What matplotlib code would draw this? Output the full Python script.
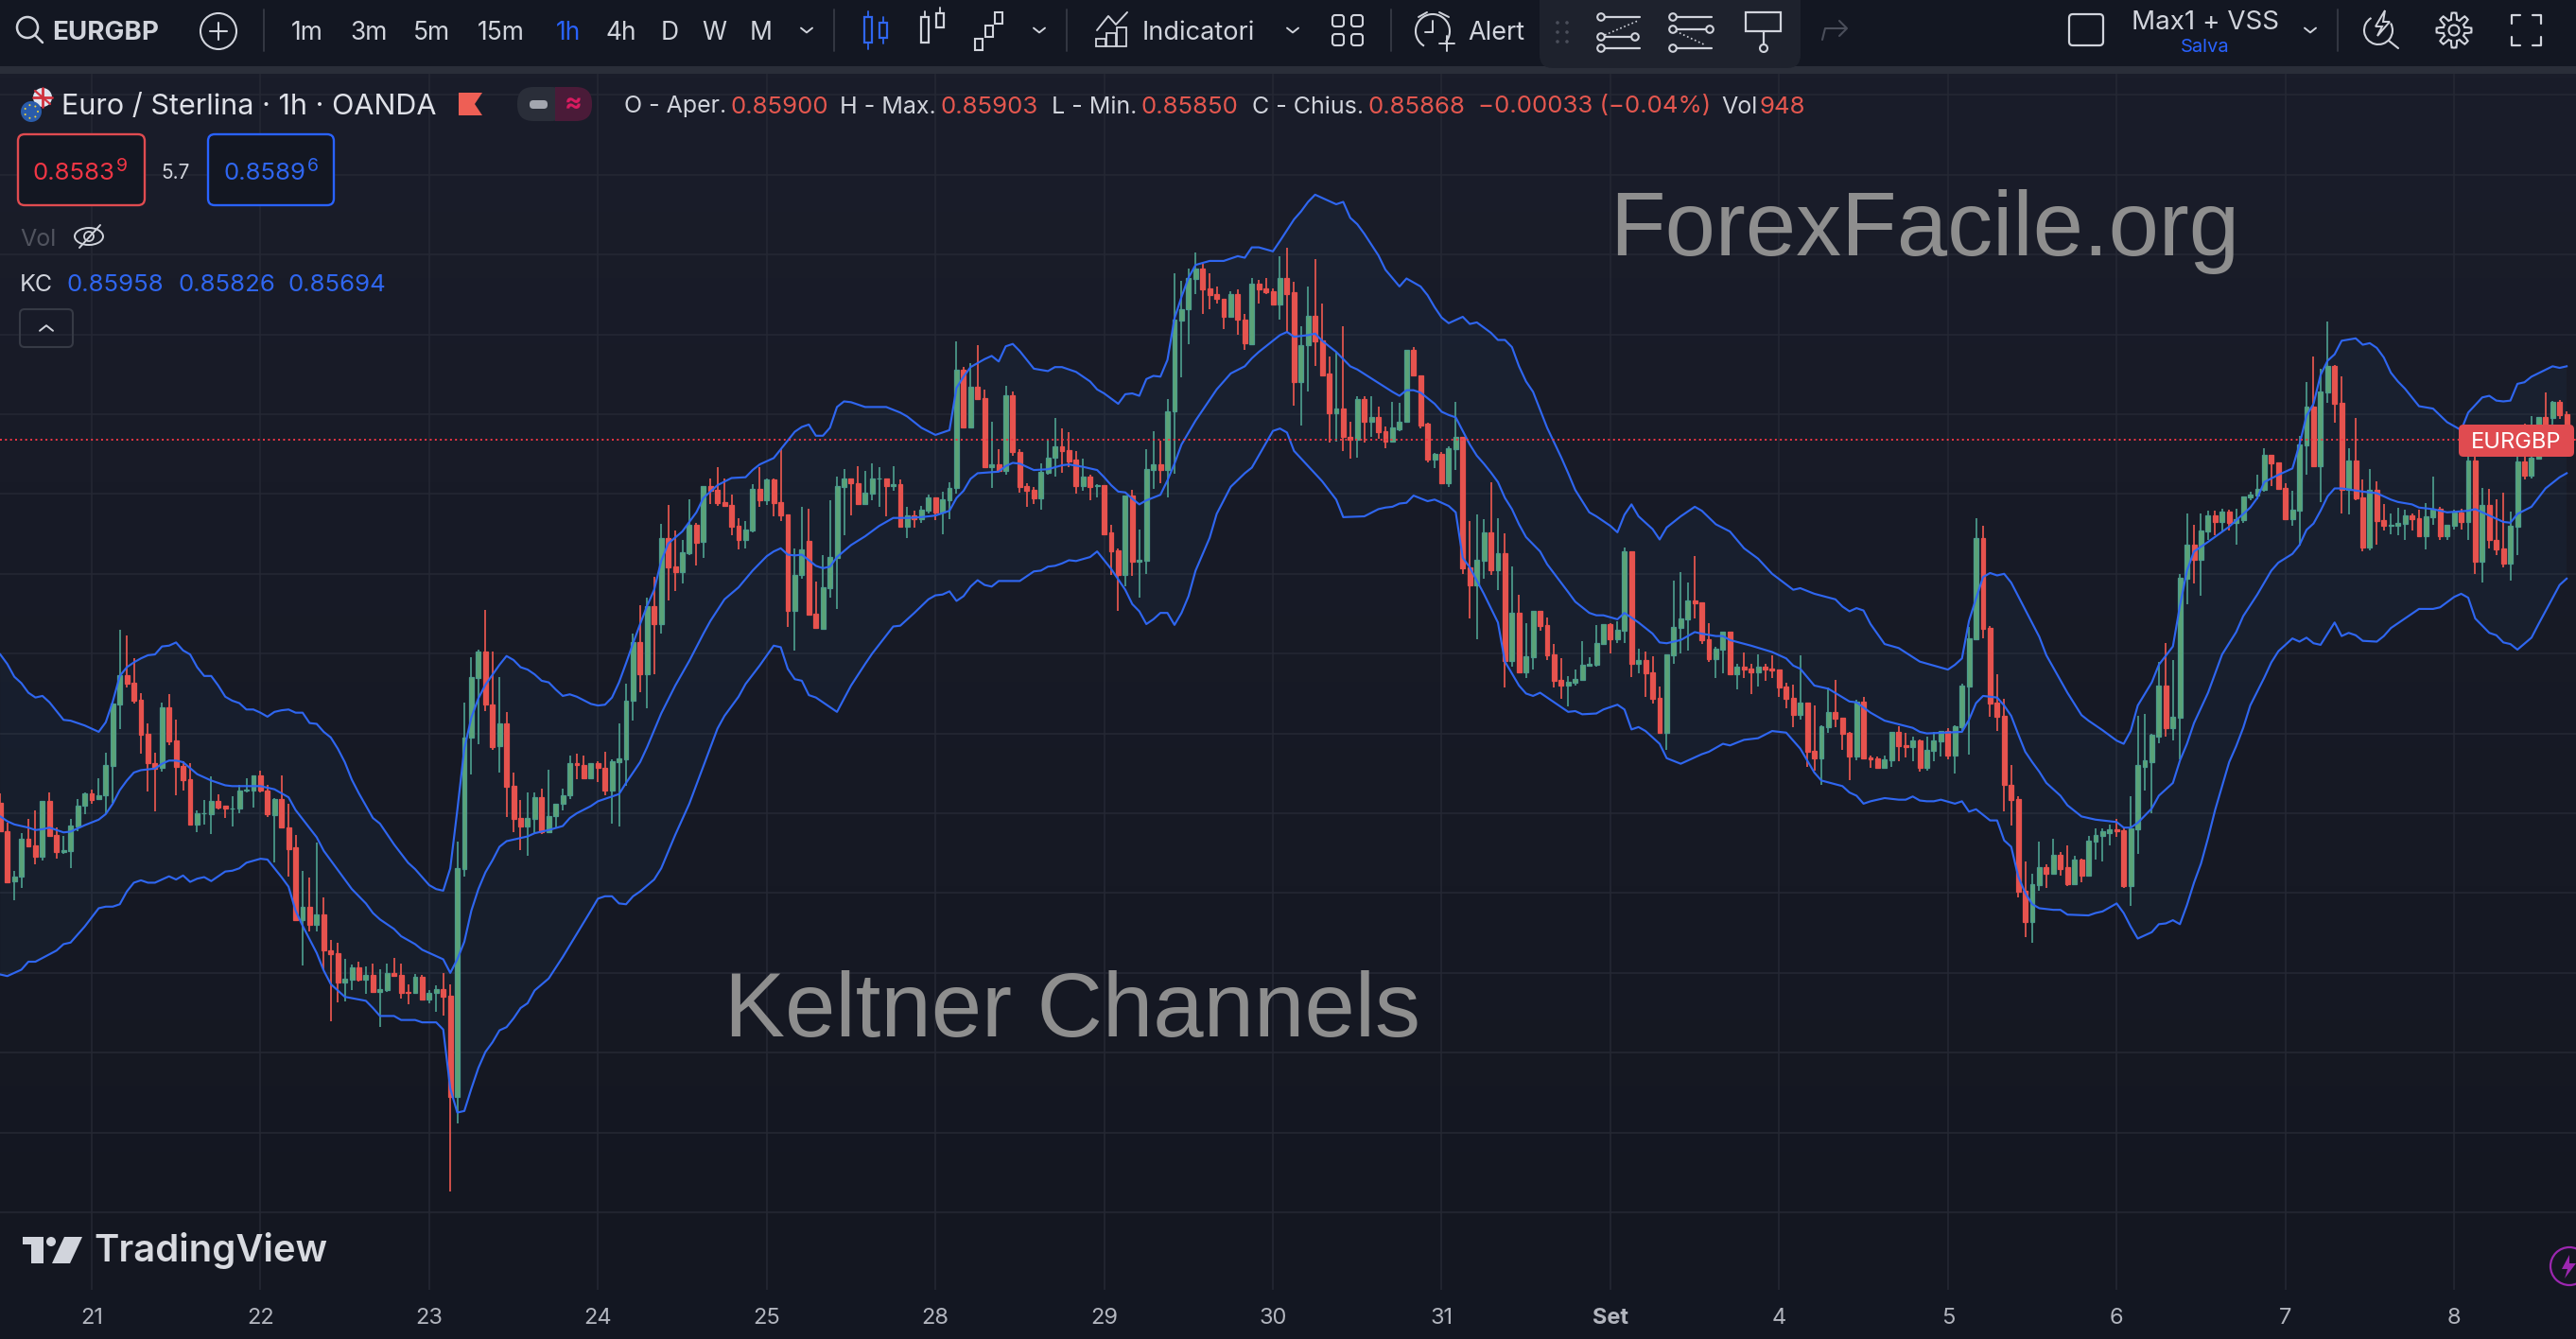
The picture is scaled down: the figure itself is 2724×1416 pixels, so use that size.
import numpy as np
from matplotlib import pyplot as plt
from matplotlib import patches as ptc

plt.rcParams['font.family'] = ['Inter', 'DejaVu Sans']

# hourly candles in 1e-5 price units, one row per chunk of bars
opens = [
    85413, 85377, 85315, 85321, 85368, 85360, 85346, 85416, 85373, 85351, 85353, 85384, 85409, 85425, 85418, 85423,
    85459, 85536, 85573, 85563, 85542, 85499, 85463, 85457, 85533, 85491, 85459, 85443, 85386, 85400, 85399, 85415,
    85409, 85406, 85406, 85428, 85429, 85447, 85429, 85398, 85418, 85382, 85357, 85266, 85283, 85260, 85273, 85228,
    85225, 85188, 85192, 85207, 85192, 85197, 85176, 85179, 85200, 85197, 85176, 85175, 85195, 85167, 85175, 85180,
    85171, 85045, 85330, 85495, 85570, 85603, 85536, 85484, 85513, 85434, 85394, 85384, 85393, 85420, 85376, 85396,
    85412, 85423, 85463, 85460, 85444, 85463, 85457, 85428, 85464, 85468, 85541, 85615, 85574, 85659, 85637, 85745,
    85709, 85702, 85726, 85761, 85740, 85810, 85805, 85790, 85786, 85760, 85742, 85754, 85806, 85792, 85818, 85790,
    85774, 85654, 85699, 85741, 85650, 85631, 85682, 85720, 85809, 85819, 85813, 85788, 85801, 85819, 85819, 85810,
    85812, 85759, 85773, 85768, 85779, 85796, 85777, 85792, 85807, 85956, 85883, 85934, 85920, 85834, 85837, 85829,
    85924, 85853, 85810, 85805, 85794, 85826, 85845, 85860, 85855, 85843, 85810, 85822, 85810, 85811, 85752, 85729,
    85698, 85798, 85715, 85716, 85830, 85837, 85830, 85903, 86017, 86032, 86069, 86082, 86057, 86050, 86045, 86022,
    86050, 86019, 85988, 86063, 86057, 86054, 86038, 86071, 86053, 85940, 85986, 86023, 85992, 85951, 85901, 85907,
    85872, 85868, 85919, 85890, 85897, 85879, 85866, 85881, 85890, 85980, 85949, 85888, 85843, 85850, 85814, 85856,
    85871, 85708, 85685, 85716, 85752, 85705, 85726, 85591, 85651, 85577, 85596, 85654, 85636, 85599, 85567, 85560,
    85564, 85567, 85585, 85586, 85612, 85637, 85618, 85629, 85728, 85587, 85592, 85577, 85545, 85501, 85598, 85632,
    85643, 85666, 85664, 85618, 85593, 85605, 85628, 85574, 85584, 85581, 85577, 85584, 85581, 85580, 85559, 85545,
    85523, 85539, 85478, 85469, 85508, 85527, 85520, 85501, 85471, 85540, 85470, 85469, 85457, 85466, 85502, 85485,
    85483, 85491, 85457, 85478, 85490, 85503, 85472, 85508, 85559, 85618, 85745, 85632, 85539, 85522, 85436, 85418,
    85303, 85264, 85310, 85332, 85324, 85348, 85332, 85311, 85342, 85322, 85365, 85372, 85375, 85380, 85379, 85309,
    85380, 85458, 85464, 85496, 85560, 85507, 85520, 85694, 85736, 85718, 85753, 85773, 85765, 85778, 85764, 85767,
    85796, 85798, 85805, 85849, 85839, 85807, 85768, 85779, 85861, 85909, 85835, 85927, 85960, 85914, 85805, 85842,
    85796, 85733, 85805, 85767, 85760, 85760, 85762, 85773, 85770, 85747, 85771, 85781, 85747, 85760, 85777, 85765,
    85842, 85715, 85786, 85743, 85732, 85713, 85759, 85841, 85823, 85844, 85896, 85895, 85915, 85900,
]
highs = [
    85425, 85388, 85328, 85375, 85393, 85403, 85416, 85426, 85382, 85371, 85393, 85418, 85426, 85430, 85444, 85476,
    85539, 85630, 85623, 85594, 85551, 85512, 85476, 85539, 85549, 85517, 85465, 85463, 85404, 85417, 85446, 85424,
    85409, 85421, 85435, 85444, 85448, 85453, 85435, 85419, 85447, 85412, 85373, 85328, 85319, 85363, 85295, 85241,
    85238, 85217, 85210, 85214, 85208, 85212, 85205, 85212, 85219, 85212, 85186, 85199, 85197, 85178, 85184, 85200,
    85186, 85364, 85539, 85595, 85605, 85655, 85603, 85571, 85527, 85451, 85417, 85426, 85426, 85431, 85455, 85412,
    85431, 85472, 85475, 85472, 85463, 85465, 85477, 85468, 85512, 85562, 85625, 85661, 85670, 85696, 85763, 85786,
    85754, 85743, 85793, 85764, 85810, 85819, 85834, 85819, 85799, 85770, 85766, 85812, 85834, 85819, 85819, 85857,
    85774, 85732, 85784, 85781, 85690, 85723, 85792, 85822, 85831, 85820, 85835, 85829, 85838, 85834, 85820, 85835,
    85818, 85784, 85779, 85785, 85799, 85796, 85803, 85815, 85991, 85959, 85964, 85987, 85931, 85890, 85856, 85936,
    85929, 85856, 85813, 85809, 85838, 85868, 85895, 85882, 85877, 85854, 85844, 85824, 85812, 85811, 85761, 85732,
    85798, 85805, 85756, 85856, 85879, 85867, 85919, 86076, 86067, 86083, 86102, 86088, 86076, 86060, 86045, 86054,
    86056, 86026, 86070, 86068, 86071, 86057, 86098, 86109, 86066, 86010, 86060, 86094, 86039, 85972, 85978, 86010,
    85890, 85923, 85922, 85922, 85909, 85885, 85915, 85914, 85980, 85984, 85949, 85889, 85851, 85853, 85860, 85915,
    85871, 85766, 85774, 85768, 85815, 85770, 85751, 85709, 85674, 85638, 85654, 85654, 85645, 85612, 85594, 85572,
    85580, 85616, 85596, 85636, 85637, 85638, 85640, 85733, 85728, 85606, 85603, 85597, 85559, 85599, 85691, 85702,
    85689, 85722, 85664, 85638, 85609, 85628, 85628, 85587, 85602, 85587, 85599, 85587, 85598, 85580, 85564, 85561,
    85598, 85539, 85535, 85510, 85558, 85567, 85520, 85502, 85542, 85546, 85472, 85471, 85472, 85502, 85509, 85501,
    85496, 85492, 85496, 85502, 85503, 85507, 85510, 85562, 85634, 85770, 85760, 85635, 85574, 85543, 85461, 85421,
    85340, 85324, 85365, 85336, 85368, 85352, 85360, 85347, 85343, 85371, 85381, 85381, 85386, 85393, 85381, 85421,
    85522, 85525, 85500, 85589, 85613, 85592, 85700, 85775, 85761, 85775, 85779, 85779, 85781, 85780, 85781, 85797,
    85803, 85824, 85857, 85849, 85839, 85813, 85804, 85873, 85940, 85972, 85957, 86016, 85962, 85947, 85857, 85895,
    85818, 85831, 85816, 85787, 85775, 85783, 85780, 85775, 85780, 85789, 85822, 85784, 85761, 85780, 85781, 85872,
    85860, 85807, 85806, 85793, 85802, 85778, 85855, 85888, 85898, 85896, 85927, 85917, 85918, 85903,
]
lows = [
    85377, 85313, 85291, 85307, 85358, 85336, 85341, 85371, 85343, 85349, 85331, 85377, 85399, 85412, 85417, 85399,
    85413, 85505, 85557, 85537, 85475, 85427, 85402, 85452, 85485, 85423, 85429, 85385, 85376, 85386, 85374, 85405,
    85394, 85384, 85400, 85426, 85407, 85426, 85395, 85339, 85381, 85321, 85265, 85209, 85252, 85252, 85205, 85139,
    85163, 85164, 85179, 85189, 85174, 85175, 85132, 85176, 85195, 85168, 85161, 85174, 85165, 85162, 85151, 85146,
    84926, 85012, 85321, 85449, 85486, 85528, 85479, 85451, 85395, 85376, 85354, 85347, 85375, 85374, 85376, 85382,
    85403, 85418, 85443, 85444, 85444, 85439, 85423, 85387, 85383, 85434, 85516, 85552, 85532, 85574, 85625, 85667,
    85678, 85688, 85724, 85711, 85720, 85788, 85785, 85784, 85748, 85730, 85732, 85752, 85784, 85786, 85772, 85766,
    85633, 85604, 85694, 85649, 85632, 85630, 85670, 85656, 85748, 85773, 85788, 85788, 85792, 85784, 85772, 85804,
    85759, 85745, 85758, 85764, 85775, 85767, 85749, 85768, 85800, 85882, 85882, 85919, 85832, 85807, 85828, 85824,
    85848, 85802, 85784, 85787, 85780, 85824, 85822, 85826, 85834, 85800, 85804, 85792, 85796, 85750, 85698, 85654,
    85684, 85697, 85670, 85700, 85806, 85813, 85796, 85825, 85946, 85988, 86050, 86025, 86031, 86039, 86007, 86021,
    85999, 85980, 85986, 86039, 86051, 86038, 86019, 86002, 85911, 85886, 85929, 85961, 85947, 85865, 85866, 85854,
    85844, 85845, 85864, 85871, 85869, 85857, 85865, 85879, 85890, 85947, 85882, 85840, 85833, 85813, 85809, 85830,
    85700, 85644, 85618, 85694, 85699, 85680, 85557, 85584, 85577, 85570, 85580, 85629, 85592, 85558, 85543, 85534,
    85560, 85567, 85585, 85584, 85612, 85600, 85613, 85613, 85571, 85575, 85546, 85537, 85501, 85479, 85587, 85600,
    85604, 85644, 85612, 85589, 85570, 85575, 85573, 85555, 85570, 85549, 85559, 85566, 85570, 85546, 85532, 85508,
    85517, 85458, 85453, 85436, 85501, 85508, 85479, 85442, 85466, 85469, 85457, 85457, 85457, 85458, 85465, 85470,
    85465, 85452, 85453, 85465, 85471, 85468, 85450, 85502, 85474, 85618, 85619, 85521, 85503, 85402, 85385, 85295,
    85245, 85238, 85303, 85306, 85324, 85322, 85309, 85311, 85314, 85322, 85342, 85340, 85360, 85370, 85307, 85284,
    85349, 85428, 85400, 85488, 85496, 85491, 85468, 85662, 85688, 85673, 85743, 85748, 85752, 85754, 85737, 85764,
    85792, 85793, 85803, 85810, 85805, 85767, 85760, 85735, 85824, 85834, 85790, 85914, 85889, 85775, 85774, 85792,
    85728, 85729, 85737, 85754, 85749, 85748, 85742, 85754, 85747, 85730, 85761, 85743, 85743, 85755, 85755, 85742,
    85700, 85689, 85732, 85723, 85708, 85691, 85723, 85818, 85819, 85844, 85860, 85866, 85894, 85850,
]
closes = [
    85377, 85314, 85321, 85368, 85359, 85346, 85416, 85371, 85351, 85354, 85385, 85409, 85425, 85417, 85423, 85460,
    85537, 85573, 85562, 85541, 85498, 85463, 85456, 85533, 85490, 85458, 85442, 85386, 85400, 85400, 85415, 85407,
    85406, 85406, 85429, 85430, 85447, 85429, 85399, 85418, 85382, 85355, 85266, 85283, 85260, 85273, 85228, 85224,
    85188, 85193, 85207, 85192, 85197, 85176, 85180, 85200, 85196, 85175, 85175, 85195, 85167, 85175, 85180, 85170,
    85045, 85331, 85495, 85571, 85603, 85536, 85483, 85513, 85433, 85393, 85384, 85394, 85420, 85376, 85397, 85412,
    85423, 85463, 85460, 85444, 85463, 85457, 85428, 85465, 85469, 85541, 85615, 85574, 85659, 85637, 85745, 85708,
    85702, 85727, 85761, 85739, 85810, 85804, 85789, 85785, 85759, 85742, 85755, 85806, 85792, 85818, 85789, 85773,
    85654, 85699, 85730, 85649, 85632, 85683, 85721, 85810, 85819, 85813, 85788, 85802, 85819, 85820, 85810, 85812,
    85759, 85773, 85768, 85780, 85796, 85777, 85793, 85807, 85956, 85883, 85934, 85919, 85834, 85837, 85829, 85924,
    85853, 85809, 85804, 85794, 85828, 85845, 85860, 85854, 85841, 85810, 85822, 85809, 85811, 85750, 85728, 85698,
    85798, 85715, 85717, 85831, 85837, 85830, 85904, 86018, 86032, 86070, 86082, 86056, 86049, 86044, 86022, 86050,
    86018, 85989, 86063, 86056, 86053, 86038, 86071, 86051, 85940, 85987, 86023, 85991, 85949, 85901, 85907, 85871,
    85868, 85919, 85890, 85897, 85878, 85866, 85883, 85891, 85980, 85948, 85886, 85843, 85850, 85814, 85857, 85871,
    85707, 85685, 85717, 85752, 85705, 85726, 85591, 85651, 85577, 85597, 85654, 85635, 85598, 85566, 85560, 85565,
    85568, 85586, 85587, 85613, 85637, 85618, 85630, 85728, 85587, 85592, 85575, 85543, 85501, 85599, 85634, 85644,
    85666, 85663, 85617, 85593, 85606, 85628, 85574, 85584, 85580, 85577, 85584, 85580, 85579, 85558, 85543, 85523,
    85539, 85477, 85469, 85509, 85527, 85519, 85500, 85471, 85540, 85469, 85467, 85457, 85468, 85502, 85484, 85483,
    85491, 85457, 85479, 85491, 85503, 85472, 85509, 85560, 85619, 85745, 85631, 85538, 85521, 85435, 85417, 85302,
    85264, 85311, 85332, 85324, 85348, 85330, 85311, 85342, 85322, 85366, 85373, 85377, 85380, 85378, 85309, 85381,
    85460, 85466, 85498, 85560, 85507, 85521, 85695, 85736, 85718, 85754, 85773, 85765, 85778, 85764, 85768, 85797,
    85799, 85806, 85849, 85838, 85806, 85768, 85780, 85862, 85909, 85835, 85928, 85960, 85913, 85805, 85842, 85794,
    85733, 85805, 85766, 85760, 85761, 85764, 85773, 85768, 85747, 85772, 85781, 85747, 85761, 85777, 85765, 85842,
    85715, 85786, 85742, 85730, 85713, 85760, 85841, 85823, 85845, 85896, 85886, 85915, 85899, 85868,
]

# Keltner bands read at the bars where the line visibly bends
upper_bars = [
    0, 1, 2, 3, 4, 5, 6, 7, 8, 9, 10, 12, 14, 15, 16, 17, 18, 19, 20, 21, 22, 23, 24, 25, 26, 27, 28, 29, 30, 31,
    32, 33, 34, 35, 36, 37, 38, 39, 40, 41, 42, 43, 44, 45, 46, 47, 48, 49, 50, 51, 53, 54, 56, 58, 59, 61, 62,
    63, 64, 65, 66, 67, 68, 69, 71, 72, 73, 74, 75, 76, 77, 78, 79, 80, 81, 82, 84, 85, 86, 87, 88, 89, 90, 91,
    92, 93, 94, 95, 97, 99, 100, 102, 104, 106, 107, 108, 110, 111, 113, 114, 115, 116, 117, 118, 119, 120, 121,
    123, 126, 128, 129, 131, 133, 135, 136, 137, 138, 140, 141, 142, 143, 144, 145, 147, 149, 150, 151, 153, 155,
    156, 157, 159, 160, 161, 162, 163, 164, 165, 166, 167, 168, 169, 170, 172, 174, 176, 177, 178, 179, 181, 182,
    184, 185, 186, 187, 189, 190, 191, 192, 193, 194, 196, 197, 199, 200, 202, 203, 204, 205, 206, 208, 209, 210,
    212, 213, 214, 215, 216, 217, 218, 220, 222, 223, 224, 226, 227, 229, 230, 231, 232, 233, 235, 236, 237, 239,
    241, 242, 244, 246, 248, 250, 252, 255, 256, 258, 261, 262, 263, 264, 265, 266, 268, 270, 273, 277, 278, 279,
    280, 281, 282, 283, 284, 285, 286, 288, 290, 291, 294, 296, 297, 298, 299, 301, 302, 303, 304, 306, 307, 309,
    310, 311, 312, 314, 317, 320, 321, 322, 324, 326, 327, 328, 329, 330, 331, 332, 333, 335, 336, 337, 338, 339,
    340, 341, 342, 344, 346, 348, 350, 351, 353, 354, 355, 356, 357, 358, 359, 360, 363, 364, 365,
]
upper_vals = [
    85599, 85587, 85571, 85563, 85551, 85545, 85547, 85539, 85528, 85517, 85516, 85510, 85502, 85514, 85540, 85572,
    85583, 85589, 85594, 85598, 85599, 85609, 85610, 85614, 85604, 85599, 85583, 85572, 85572, 85560, 85546, 85541,
    85538, 85530, 85530, 85526, 85521, 85527, 85529, 85530, 85526, 85526, 85513, 85512, 85502, 85495, 85481, 85464,
    85442, 85425, 85394, 85387, 85361, 85338, 85330, 85310, 85305, 85303, 85331, 85404, 85481, 85520, 85544, 85561,
    85586, 85597, 85592, 85583, 85580, 85574, 85566, 85564, 85555, 85547, 85549, 85546, 85537, 85535, 85536, 85545,
    85564, 85588, 85613, 85637, 85660, 85680, 85716, 85738, 85753, 85777, 85795, 85811, 85820, 85821, 85830, 85837,
    85845, 85856, 85878, 85884, 85887, 85873, 85873, 85883, 85909, 85916, 85915, 85909, 85909, 85902, 85897, 85883,
    85874, 85880, 85933, 85947, 85959, 85969, 85973, 85966, 85985, 85988, 85979, 85957, 85954, 85959, 85959, 85953,
    85941, 85931, 85926, 85913, 85925, 85926, 85923, 85944, 85948, 85947, 85968, 86020, 86047, 86071, 86087, 86092,
    86092, 86098, 86096, 86109, 86109, 86104, 86117, 86144, 86154, 86166, 86175, 86167, 86163, 86166, 86146, 86138,
    86126, 86099, 86081, 86060, 86070, 86060, 86049, 86034, 86021, 86014, 86022, 86013, 86015, 86002, 85993, 85993,
    85984, 85960, 85941, 85928, 85883, 85846, 85826, 85805, 85777, 85772, 85760, 85752, 85774, 85787, 85772, 85756,
    85743, 85758, 85772, 85784, 85779, 85762, 85753, 85732, 85719, 85700, 85680, 85682, 85675, 85668, 85659, 85653,
    85657, 85654, 85637, 85612, 85607, 85590, 85580, 85586, 85594, 85641, 85669, 85696, 85701, 85698, 85700, 85689,
    85655, 85621, 85598, 85551, 85523, 85516, 85510, 85504, 85491, 85487, 85503, 85535, 85564, 85586, 85609, 85660,
    85704, 85728, 85740, 85759, 85783, 85795, 85815, 85824, 85832, 85862, 85898, 85913, 85949, 85967, 85975, 85992,
    85995, 85987, 85989, 85983, 85971, 85952, 85941, 85932, 85910, 85907, 85890, 85880, 85902, 85921, 85923, 85917,
    85916, 85917, 85938, 85940, 85947, 85960, 85958, 85960,
]
basis_bars = [
    0, 1, 2, 4, 5, 6, 7, 9, 10, 12, 14, 15, 16, 17, 18, 19, 20, 22, 23, 24, 25, 26, 28, 30, 32, 33, 35, 37, 39, 41,
    42, 45, 46, 47, 50, 52, 53, 54, 56, 57, 59, 60, 63, 64, 65, 66, 67, 68, 69, 70, 71, 72, 75, 76, 78, 80, 81,
    82, 84, 85, 88, 89, 90, 91, 92, 94, 96, 98, 100, 101, 103, 105, 107, 109, 110, 111, 112, 113, 114, 116, 117,
    118, 119, 121, 123, 125, 127, 129, 131, 133, 135, 136, 137, 138, 139, 142, 143, 144, 145, 147, 149, 151, 152,
    154, 156, 157, 158, 159, 160, 161, 162, 163, 165, 166, 167, 168, 170, 173, 175, 177, 178, 179, 181, 182, 183,
    184, 186, 187, 188, 190, 192, 193, 198, 199, 200, 201, 202, 204, 205, 206, 207, 208, 209, 210, 211, 212, 213,
    214, 215, 216, 217, 219, 220, 223, 224, 226, 227, 228, 230, 231, 232, 233, 235, 236, 237, 239, 241, 242, 244,
    245, 246, 249, 252, 254, 255, 256, 258, 260, 263, 264, 266, 268, 272, 273, 274, 279, 280, 281, 282, 284, 285,
    286, 287, 288, 289, 290, 291, 293, 294, 296, 298, 301, 302, 303, 304, 306, 307, 308, 309, 310, 311, 312, 314,
    316, 318, 319, 321, 323, 324, 326, 327, 328, 329, 330, 331, 332, 333, 336, 338, 340, 341, 343, 344, 346, 348,
    351, 352, 354, 356, 357, 358, 360, 362, 364, 365,
]
basis_vals = [
    85396, 85390, 85386, 85382, 85379, 85380, 85382, 85376, 85377, 85385, 85392, 85399, 85412, 85429, 85441, 85451,
    85454, 85456, 85462, 85466, 85466, 85464, 85449, 85441, 85435, 85434, 85434, 85434, 85430, 85420, 85404, 85370,
    85353, 85341, 85305, 85287, 85275, 85267, 85255, 85246, 85236, 85229, 85217, 85200, 85217, 85239, 85278, 85305,
    85326, 85341, 85358, 85365, 85371, 85375, 85379, 85384, 85394, 85400, 85409, 85415, 85424, 85438, 85451, 85464,
    85483, 85525, 85560, 85591, 85625, 85641, 85668, 85683, 85704, 85722, 85728, 85732, 85724, 85723, 85724, 85710,
    85707, 85709, 85721, 85736, 85747, 85760, 85770, 85770, 85771, 85773, 85779, 85795, 85804, 85819, 85826, 85828,
    85835, 85839, 85838, 85830, 85831, 85836, 85837, 85834, 85830, 85821, 85811, 85803, 85802, 85794, 85787, 85792,
    85799, 85817, 85838, 85862, 85892, 85931, 85951, 85960, 85970, 85978, 85992, 85999, 86003, 85997, 85999, 86001,
    85992, 85978, 85960, 85956, 85928, 85923, 85930, 85930, 85927, 85913, 85903, 85899, 85896, 85879, 85862, 85848,
    85838, 85827, 85815, 85795, 85781, 85762, 85746, 85728, 85712, 85677, 85665, 85651, 85648, 85648, 85643, 85651,
    85645, 85639, 85625, 85614, 85613, 85617, 85627, 85625, 85622, 85622, 85617, 85610, 85602, 85594, 85585, 85581,
    85560, 85556, 85540, 85539, 85526, 85516, 85507, 85502, 85500, 85502, 85517, 85538, 85547, 85545, 85535,
    85522, 85499, 85477, 85464, 85452, 85438, 85422, 85410, 85396, 85392, 85389, 85382, 85382, 85388, 85406, 85422,
    85430, 85438, 85466, 85487, 85513, 85551, 85599, 85627, 85647, 85674, 85704, 85714, 85725, 85736, 85755, 85763,
    85779, 85797, 85807, 85807, 85803, 85801, 85793, 85790, 85787, 85783, 85781, 85777, 85779, 85781, 85773, 85765,
    85764, 85775, 85784, 85807, 85821, 85826,
]
lower_bars = [
    0, 1, 3, 4, 5, 8, 9, 10, 12, 14, 15, 16, 17, 18, 19, 20, 21, 22, 24, 25, 26, 27, 28, 29, 30, 32, 33, 34, 35, 37,
    38, 40, 41, 42, 43, 45, 46, 47, 49, 52, 53, 54, 56, 57, 59, 60, 62, 63, 64, 65, 66, 67, 68, 69, 70, 71, 72,
    73, 74, 75, 76, 78, 80, 82, 84, 85, 86, 87, 88, 89, 90, 91, 93, 94, 96, 98, 100, 102, 103, 105, 106, 108, 110,
    111, 112, 113, 114, 115, 116, 119, 121, 123, 124, 127, 128, 130, 132, 133, 134, 135, 136, 137, 138, 139, 140,
    141, 142, 145, 147, 148, 149, 150, 151, 152, 153, 155, 156, 158, 160, 161, 162, 163, 164, 165, 166, 167, 168,
    169, 170, 172, 173, 175, 177, 178, 181, 182, 183, 184, 186, 188, 190, 191, 194, 196, 197, 198, 199, 200, 201,
    203, 204, 206, 207, 208, 209, 211, 212, 213, 214, 216, 217, 218, 219, 223, 224, 225, 227, 228, 230, 231, 232,
    233, 234, 236, 237, 239, 242, 243, 245, 246, 248, 250, 252, 254, 256, 258, 259, 262, 263, 264, 265, 266, 268,
    270, 271, 272, 273, 274, 275, 276, 278, 279, 280, 281, 283, 284, 285, 286, 287, 288, 289, 290, 292, 293, 294,
    297, 298, 299, 301, 302, 303, 304, 306, 307, 308, 309, 310, 311, 312, 313, 314, 315, 316, 317, 318, 319, 320,
    322, 323, 324, 325, 326, 327, 328, 329, 330, 332, 333, 334, 335, 336, 338, 339, 340, 342, 344, 346, 347, 349,
    350, 351, 352, 354, 355, 356, 357, 358, 360, 361, 364, 365,
]
lower_vals = [
    85198, 85196, 85204, 85214, 85214, 85228, 85236, 85238, 85258, 85281, 85283, 85283, 85286, 85302, 85313, 85316,
    85313, 85313, 85321, 85317, 85322, 85314, 85318, 85320, 85315, 85327, 85328, 85331, 85338, 85343, 85342, 85320,
    85308, 85278, 85259, 85225, 85203, 85186, 85170, 85165, 85156, 85146, 85146, 85141, 85141, 85138, 85138, 85129,
    85055, 85025, 85027, 85055, 85081, 85101, 85113, 85128, 85132, 85143, 85156, 85162, 85178, 85193, 85220, 85249,
    85278, 85293, 85296, 85296, 85287, 85286, 85296, 85302, 85317, 85331, 85373, 85412, 85459, 85506, 85522, 85546,
    85562, 85585, 85610, 85608, 85581, 85568, 85566, 85548, 85545, 85527, 85560, 85587, 85600, 85634, 85635, 85651,
    85668, 85673, 85674, 85678, 85666, 85672, 85684, 85692, 85686, 85684, 85691, 85691, 85703, 85704, 85709, 85710,
    85713, 85717, 85716, 85721, 85728, 85706, 85680, 85662, 85653, 85637, 85643, 85651, 85651, 85636, 85651, 85672,
    85704, 85745, 85775, 85809, 85826, 85833, 85879, 85882, 85877, 85854, 85835, 85816, 85793, 85771, 85772, 85781,
    85783, 85784, 85788, 85789, 85798, 85791, 85793, 85785, 85777, 85720, 85708, 85675, 85657, 85639, 85590, 85560,
    85550, 85547, 85551, 85527, 85528, 85524, 85525, 85530, 85536, 85530, 85505, 85508, 85503, 85487, 85469, 85462,
    85474, 85477, 85487, 85485, 85492, 85494, 85503, 85501, 85481, 85451, 85441, 85434, 85426, 85422, 85412, 85415,
    85419, 85417, 85417, 85421, 85416, 85415, 85415, 85417, 85412, 85415, 85402, 85405, 85391, 85391, 85366, 85358,
    85321, 85300, 85286, 85281, 85279, 85279, 85273, 85272, 85275, 85277, 85287, 85275, 85258, 85243, 85251, 85261,
    85262, 85266, 85261, 85285, 85313, 85337, 85369, 85404, 85434, 85464, 85484, 85507, 85535, 85570, 85589, 85603,
    85611, 85619, 85615, 85620, 85613, 85611, 85639, 85622, 85626, 85623, 85616, 85615, 85622, 85632, 85644, 85656,
    85656, 85658, 85671, 85675, 85670, 85644, 85626, 85623, 85614, 85612, 85605, 85620, 85637, 85686, 85694,
]

day_bars = [13, 37, 61, 85, 109, 133, 157, 181, 205, 229, 253, 277, 301, 325, 349]
day_labels = ['21', '22', '23', '24', '25', '28', '29', '30', '31', 'Set', '4', '5', '6', '7', '8']
grid_prices = [0.849, 0.850, 0.851, 0.852, 0.853, 0.854, 0.855, 0.856, 0.857, 0.858, 0.859, 0.860, 0.861, 0.862, 0.863]
last_close = 0.85868

c_blue = '#2f66f0'
c_text = '#d1d4dc'
c_red = '#e4574f'
c_line = '#d1d4dc'

W, H = 2724, 1416
fig = plt.figure(figsize=(W / 100, H / 100), dpi=100, facecolor='#131722')

# pane background fades from top to bottom
bg = fig.add_axes([0, 0, 1, 1], zorder=0)
grad = np.linspace(0, 1, 256).reshape(-1, 1)
c_top, c_bot = np.array([26, 29, 42]) / 255, np.array([20, 23, 33]) / 255
bg.imshow((c_top * (1 - grad[..., None]) + c_bot * grad[..., None]), aspect='auto', extent=[0, W, 1364, 78])
bg.set_xlim(0, W)
bg.set_ylim(H, 0)
bg.axis('off')

ax = fig.add_axes([0, (H - 1364) / H, 1, (1364 - 78) / H], zorder=1)
ax.patch.set_alpha(0)
for s in ax.spines.values():
    s.set_visible(False)

o, h, l, c = [np.array(v) / 1e5 for v in (opens, highs, lows, closes)]
bars = np.arange(len(o))
up = c >= o

ax.set_xticks(day_bars, day_labels, fontsize=17, color='#b2b5be')
ax.set_yticks(grid_prices, [''] * len(grid_prices))
ax.tick_params(length=0, pad=14)
ax.get_xticklabels()[9].set_fontweight('bold')
ax.grid(True, color='#252834', linewidth=1.1, zorder=0)
ax.set_axisbelow(True)

ux, uv = np.array(upper_bars), np.array(upper_vals) / 1e5
mx, mv = np.array(basis_bars), np.array(basis_vals) / 1e5
lx, lv = np.array(lower_bars), np.array(lower_vals) / 1e5
ax.fill(np.r_[ux, lx[::-1]], np.r_[uv, lv[::-1]], color='#2f6595', alpha=0.08, lw=0, zorder=1)

ax.vlines(bars[up], l[up], h[up], color='#4c9c8c', linewidth=1.25, zorder=2)
ax.vlines(bars[~up], l[~up], h[~up], color='#e8574f', linewidth=1.25, zorder=2)
ax.bar(bars[up], (c - o)[up], bottom=o[up], width=0.66, color='#5ba377', edgecolor='#4c9c8c', linewidth=0.9, zorder=2.1)
ax.bar(bars[~up], (o - c)[~up], bottom=c[~up], width=0.66, color='#e5544f', edgecolor='#e8504c', linewidth=0.9, zorder=2.1)

for xs, vs in ((ux, uv), (mx, mv), (lx, lv)):
    ax.plot(xs, vs, color=c_blue, linewidth=1.55, solid_joinstyle='round', zorder=3)

ax.axhline(last_close, color='#f23645', linewidth=1.4, linestyle=(0, (1, 1.75)), zorder=3.5)

ax.set_xlim(-0.04, 366.33)
ax.set_ylim(0.848029, 0.863265)

# everything below is the app chrome around the chart, placed in screen pixels
ui = fig.add_axes([0, 0, 1, 1], zorder=2)
ui.set_xlim(0, W)
ui.set_ylim(H, 0)
ui.axis('off')
ui.patch.set_alpha(0)


def txt(x, y, s, color=c_text, size=18, ha='left', va='center', **kw):
    return ui.text(x, y + 2, s, color=color, fontsize=size, ha=ha, va=va, **kw)


def rect(x0, y0, x1, y1, fc='none', ec='none', lw=1.6, r=0, z=2):
    if r:
        p = ptc.FancyBboxPatch((x0 + r, y0 + r), x1 - x0 - 2 * r, y1 - y0 - 2 * r, boxstyle=f'round,pad={r},rounding_size={r}',
                               fc=fc, ec=ec, lw=lw, zorder=z)
    else:
        p = ptc.Rectangle((x0, y0), x1 - x0, y1 - y0, fc=fc, ec=ec, lw=lw, zorder=z)
    ui.add_patch(p)


def line(xs, ys, color=c_line, lw=1.5, **kw):
    ui.plot(xs, ys, color=color, lw=lw, solid_capstyle='round', **kw)


def circle(x, y, r, fc='none', ec=c_line, lw=1.5, z=3):
    ui.add_patch(ptc.Circle((x, y), r, fc=fc, ec=ec, lw=lw, zorder=z))


def chevron(x, y, s=6, color=c_line, up_dir=False):
    d = -s * 0.8 if up_dir else s * 0.8
    line([x - s, x, x + s], [y - d / 2, y + d / 2, y - d / 2], color=color, lw=1.4)


# toolbar
rect(0, 0, W, 70, fc='#131722', z=1)
rect(0, 70, W, 78, fc='#2a2e39', z=1)

circle(29, 29, 11, lw=1.8)
line([37, 45], [37, 45], lw=1.8)
txt(55, 33, 'EURGBP', size=20, fontweight='bold')
circle(231, 33, 19)
line([231, 231], [24, 42])
line([222, 240], [33, 33])
for x in (279, 882, 1128, 1471, 2472):
    line([x, x], [10, 54], color='#363a45', lw=1.3)
for x, s in zip((325, 390, 456, 530, 601, 657, 708, 755, 805), ('1m', '3m', '5m', '15m', '1h', '4h', 'D', 'W', 'M')):
    txt(x, 33, s, color='#2962ff' if s == '1h' else c_text, size=19, ha='center')
for x in (853, 1099, 1367, 2443):
    chevron(x, 32)

# candle type icons
for x, y0, y1, b0, b1, col in ((918, 12, 52, 18, 45, c_blue), (934, 18, 46, 24, 40, c_blue),
                               (978, 12, 45, 18, 45, c_line), (994, 8, 29, 14, 29, c_line)):
    line([x, x], [y0, y1], color=col, lw=1.3)
    rect(x - 4, b0, x + 4, b1, fc='#131722', ec=col, lw=1.6, z=4)
for x, y0 in ((1035, 41), (1046, 27), (1056, 13)):
    rect(x - 4, y0, x + 4, y0 + 12, ec=c_line, lw=1.5, z=4)

# indicators icon
line([1160, 1172, 1180, 1192], [32, 17, 26, 13], lw=1.4)
for x0, y0 in ((1159, 41), (1170, 35), (1181, 29)):
    rect(x0, y0, x0 + 10, 49, ec=c_line, lw=1.3, z=4)
txt(1208, 33, 'Indicatori', size=19.5)
for x0 in (1409, 1429):
    for y0 in (16, 36):
        rect(x0, y0, x0 + 12, y0 + 12, ec=c_line, lw=1.5, r=3)

# alert icon
ui.add_patch(ptc.Arc((1515, 33), 36, 36, theta1=120, theta2=400, ec=c_line, lw=1.5, zorder=3))
line([1515, 1515, 1507], [22, 34, 34], lw=1.4)
line([1500, 1509], [18, 13], lw=1.4)
line([1522, 1532], [13, 18], lw=1.4)
line([1530, 1530], [38, 54], lw=1.4)
line([1522, 1538], [46, 46], lw=1.4)
txt(1552, 33, 'Alert', size=19.5)

# floating drawing panel
rect(1628, -20, 1904, 72, fc='#1e222d', r=14, z=1)
for x in (1647, 1657):
    for y in (24, 34, 44):
        circle(x, y, 1.8, fc='#4a4e5a', ec='none')
for y, x0, x1 in ((18, 1697, 1734), (39, 1697, 1724), (51, 1697, 1734)):
    line([x0, x1], [y, y], lw=1.6)
    circle(1693, y, 3.8, fc='#1e222d')
circle(1729, 39, 3.8, fc='#1e222d')
line([1697, 1732], [37, 22], lw=1.2, ls=':')
for y, x0, x1 in ((18, 1772, 1810), (31, 1772, 1806), (51, 1772, 1810)):
    line([x0, x1], [y, y], lw=1.6)
    circle(1769, y, 3.8, fc='#1e222d')
circle(1808, 31, 3.8, fc='#1e222d')
line([1772, 1804], [33, 48], lw=1.2, ls=':')
rect(1846, 13, 1883, 33, ec=c_line, lw=1.6)
line([1865, 1865], [33, 47], lw=1.6)
circle(1865, 51, 4)

# redo arrow and right side of the toolbar
line([1927, 1930, 1952], [42, 30, 30], color='#4a4e5a', lw=1.5)
line([1945, 1953, 1945], [22, 30, 38], color='#4a4e5a', lw=1.5)
rect(2188, 15, 2224, 48, ec=c_line, lw=1.6, r=4)
txt(2332, 22, 'Max1 + VSS', size=20, ha='center')
txt(2332, 48, 'Salva', color='#2962ff', size=14.5, ha='center')

ui.add_patch(ptc.Arc((2515, 32), 30, 30, theta1=-30, theta2=240, ec=c_line, lw=1.5, zorder=3))
line([2526, 2536], [43, 51], lw=1.5)
ui.add_patch(ptc.Polygon([(2522, 11), (2512, 28), (2519, 28), (2514, 38), (2527, 23), (2520, 23)], fc='none', ec=c_line, lw=1.4, zorder=3))

ang = np.linspace(0, 2 * np.pi, 97)
rad = 15 + 3.5 * np.clip(3 * np.cos(8 * ang), -1, 1)
ui.add_patch(ptc.Polygon(np.c_[2595 + rad * np.cos(ang), 32 + rad * np.sin(ang)], fc='none', ec=c_line, lw=1.5, zorder=3))
circle(2595, 32, 5.5)

for x, y, dx, dy in ((2656, 16, 1, 1), (2687, 16, -1, 1), (2656, 48, 1, -1), (2687, 48, -1, -1)):
    line([x + 9 * dx, x, x], [y, y, y + 9 * dy], lw=1.6)

# legend rows
circle(33, 118, 11, fc='#2a5caa', ec='none', z=4)
circle(45, 103, 10, fc='#dfe3ee', ec='none', z=3)
line([37, 53], [96, 110], color='#d0313d', lw=1.6, zorder=3)
line([45, 45], [93, 113], color='#d0313d', lw=2, zorder=3)
line([35, 55], [103, 103], color='#d0313d', lw=2, zorder=3)
for a in np.linspace(0, 2 * np.pi, 8)[:-1]:
    circle(33 + 7 * np.cos(a), 118 + 7 * np.sin(a), 1, fc='#f2d43a', ec='none', z=5)

txt(65, 111, 'Euro / Sterlina · 1h · OANDA', size=22, color='#dfe1e8')
ui.add_patch(ptc.Polygon([(485, 98), (510, 98), (502, 110), (510, 122), (485, 122)], fc='#ee5f55', ec='none', zorder=3))
rect(547, 92, 600, 128, fc='#2a2e39', r=17, z=2)
rect(587, 92, 626, 128, fc='#4a1b38', r=17, z=2)
rect(587, 92, 604, 128, fc='#4a1b38', z=2)
rect(560, 106, 579, 115, fc='#a3a6af', r=4, z=3)
txt(606, 108, '≈', color='#d81b60', size=20, ha='center', fontweight='bold')

legend_y = 111
for x, s in ((660, 'O - Aper.'), (888, 'H - Max.'), (1112, 'L - Min.'), (1324, 'C - Chius.'), (1820, 'Vol')):
    txt(x, legend_y, s, size=18)
for x, s in ((772, '0.85900'), (994, '0.85903'), (1206, '0.85850'), (1447, '0.85868'), (1563, '−0.00033 (−0.04%)'), (1860, '948')):
    txt(x, legend_y, s, color=c_red, size=18.6)

rect(19, 142, 153, 217, fc='#131722', ec='#e04b50', lw=1.7, r=7)
rect(220, 142, 353, 217, fc='#131722', ec='#2962ff', lw=1.7, r=7)
txt(34, 181, '0.8583', color='#f23645', size=18.6)
txt(123, 174, '9', color='#f23645', size=14)
txt(186, 181, '5.7', size=15, ha='center')
txt(236, 181, '0.8589', color='#2f66f0', size=18.6)
txt(325, 174, '6', color='#2f66f0', size=14)

txt(21, 251, 'Vol', color='#50535e', size=18)
ui.add_patch(ptc.Ellipse((94, 250), 30, 18, fc='none', ec=c_line, lw=1.4, zorder=3))
circle(94, 250, 5, lw=1.3)
line([84, 106], [262, 238], lw=1.4)

txt(21, 299, 'KC', size=18)
for x, s in ((71, '0.85958'), (189, '0.85826'), (305, '0.85694')):
    txt(x, 299, s, color='#2f66f0', size=18.6)
rect(21, 327, 77, 367, ec='#363a45', lw=1.5, r=5)
chevron(49, 347, s=7, up_dir=True)

# price tag on the last close
rect(2600, 449, 2722, 483, fc='#e04b50', r=5, z=5)
txt(2661, 466, 'EURGBP', color='white', size=17, ha='center', zorder=6)

# watermarks pasted over the screenshot
wm = dict(color='#8e8e8e', family=['Liberation Sans'], ha='left', va='baseline', zorder=6)
ui.text(1702, 270, 'ForexFacile.org', fontsize=69, **wm)
ui.text(766, 1096, 'Keltner Channels', fontsize=69, **wm)

# TradingView logo
rect(24, 1308, 46, 1316, fc=c_text, z=5)
rect(33, 1308, 46, 1336, fc=c_text, z=5)
circle(54, 1313, 5, fc=c_text, ec='none', z=5)
ui.add_patch(ptc.Polygon([(68, 1308), (87, 1308), (74, 1336), (55, 1336)], fc=c_text, ec='none', zorder=5))
txt(99, 1321, 'TradingView', size=28.8, fontweight='semibold', color='#d8dae0')

# lightning badge at the bottom right
ui.add_patch(ptc.Circle((2717, 1339), 20, fc='none', ec='#9c27b0', lw=1.6, zorder=5))
ui.add_patch(ptc.Polygon([(2717, 1327), (2709, 1342), (2715, 1342), (2712, 1352), (2724, 1336), (2717, 1336)],
                         fc='#9c27b0', ec='none', zorder=5))

fig.savefig('out.png', dpi=100, facecolor=fig.get_facecolor())
